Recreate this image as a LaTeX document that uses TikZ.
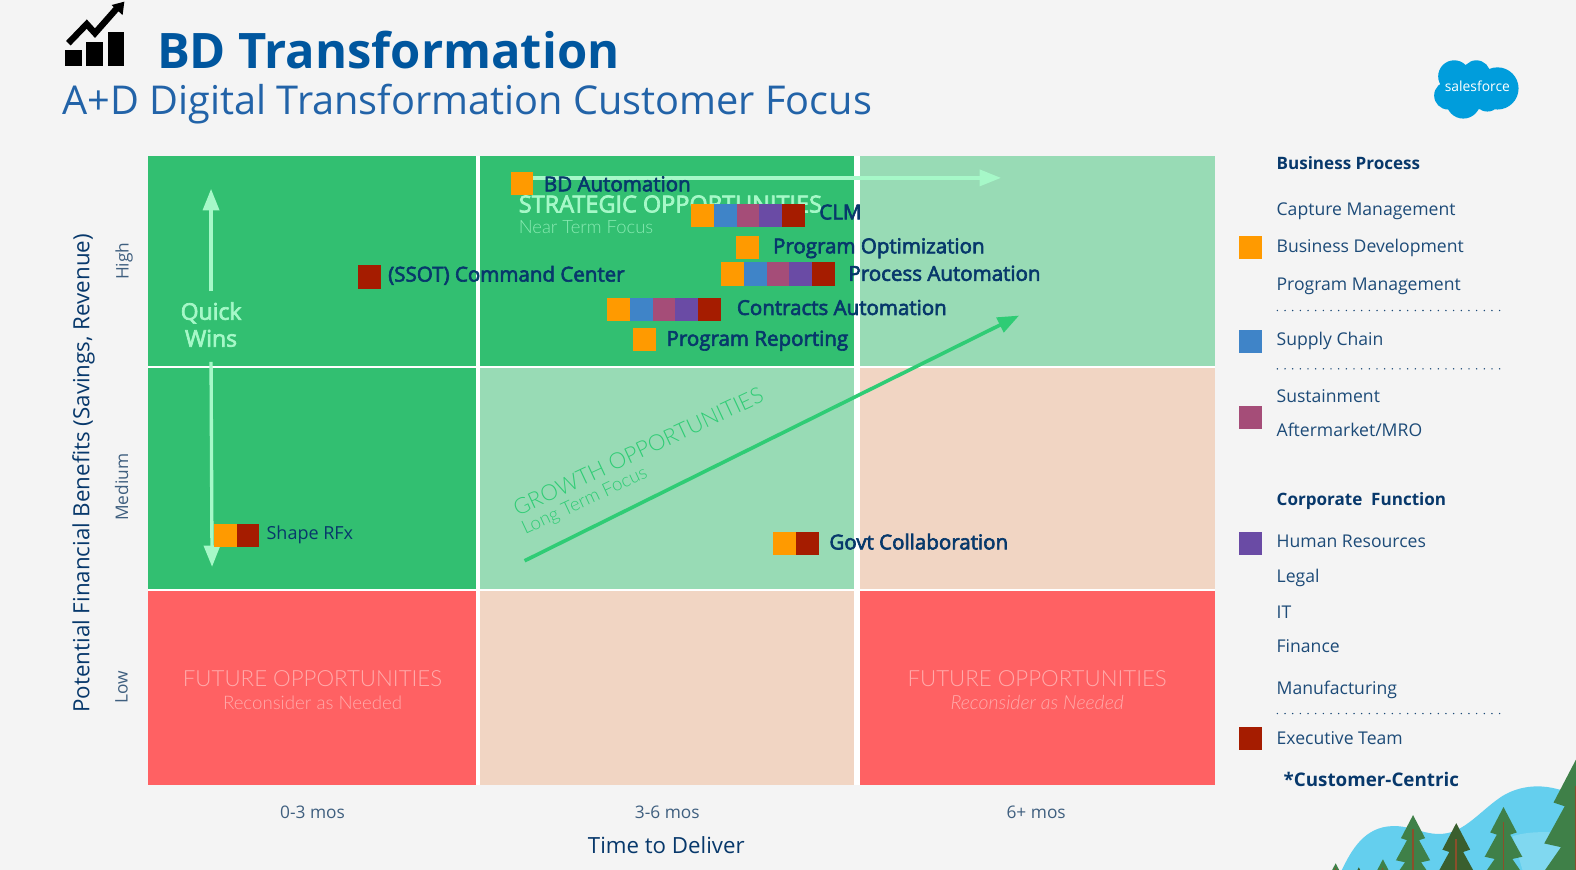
\documentclass[tikz,border=0pt]{standalone}
\usepackage{fontspec}
\setmainfont{Open Sans}
\newfontfamily\lightf{Lato Light}
\newfontfamily\semif[FakeBold=3]{Open Sans}
\usetikzlibrary{arrows.meta}
\definecolor{bgc}{HTML}{F4F4F4}
\definecolor{dgreen}{HTML}{32BF71}
\definecolor{lgreen}{HTML}{98DBB5}
\definecolor{peach}{HTML}{F1D5C3}
\definecolor{redc}{HTML}{FF6163}
\definecolor{swO}{HTML}{FF9A00}
\definecolor{swB}{HTML}{3F84C8}
\definecolor{swM}{HTML}{A54D78}
\definecolor{swP}{HTML}{6A4BA5}
\definecolor{swR}{HTML}{A51C00}
\definecolor{navy}{HTML}{07386B}
\definecolor{slate}{HTML}{3F5F7F}
\definecolor{legendc}{HTML}{1D4B78}
\definecolor{titlec}{HTML}{00569E}
\definecolor{subc}{HTML}{2263A8}
\definecolor{mint}{HTML}{A6F8C8}
\definecolor{growc}{HTML}{2FCC75}
\definecolor{futc}{HTML}{FFABAB}
\definecolor{hill}{HTML}{64CFEE}
\definecolor{hilll}{HTML}{80D8F0}
\definecolor{treeA}{HTML}{3F8048}
\definecolor{treeB}{HTML}{3A5F2E}
\definecolor{trunk}{HTML}{8A4F2B}
\definecolor{cloudc}{HTML}{009DDC}
\newcommand{\fsz}[1]{\fontsize{#1}{#1}\selectfont}
\newcommand{\treeat}[4]{%
 \begin{scope}[shift={(#1,#2)},x=#3*0.754pt,y=-#3*0.754pt]
  \fill[#4] (0,0)--(-12,23)--(-6,25)--(-17,45)--(-8,47)--(-24,70)--(-10,72)--(-26,95)--(26,95)--(10,72)--(24,70)--(8,47)--(17,45)--(6,25)--(12,23)--cycle;
  \draw[trunk,line width=#3*1pt] (0,14)--(0,95);
 \end{scope}}
\tikzset{
 swatch/.style={fill=#1,draw=none,inner sep=0,outer sep=0,minimum width=22.7*0.754pt,minimum height=23.2*0.754pt,anchor=north west},
 lab/.style={inner sep=0,anchor=west,text=navy,font=\semif\fsz{15.4}},
 leg/.style={inner sep=0,anchor=west,text=legendc,font=\fsz{13.2}},
 leghead/.style={inner sep=0,anchor=west,text=navy,font=\fsz{12.8}\bfseries},
 ax/.style={inner sep=0,text=slate,font=\fsz{13}},
 fut/.style={inner sep=0,text=futc,font=\lightf\fsz{16.7}},
 futs/.style={inner sep=0,text=futc,font=\lightf\fsz{14}},
 mintarrow/.style={draw=mint,line width=2.5pt,-{Triangle[width=12pt,length=16pt]}},
 dots/.style={draw=legendc,line width=1.2pt,line cap=round,dash pattern=on 0pt off 5.75pt},
}
\begin{document}
\begin{tikzpicture}[x=0.754pt,y=-0.754pt]
\useasboundingbox (0,0) rectangle (1568.16,865.67);
\fill[bgc] (0,0) rectangle (1568.16,865.67);
% --- matrix
\fill[dgreen] (147,155) rectangle (474,364);
\fill[dgreen] (477.5,155) rectangle (850,364);
\fill[lgreen] (855.5,155) rectangle (1209,364);
\fill[dgreen] (147,366) rectangle (475,586);
\fill[lgreen] (477.5,366) rectangle (850,586);
\fill[peach] (855.5,366) rectangle (1209,586);
\fill[redc] (147,588) rectangle (474,781);
\fill[peach] (477.5,588) rectangle (850,781);
\fill[redc] (855.5,588) rectangle (1209,781);
\fill[white] (147,364) rectangle (475,366);
\fill[white] (147,586) rectangle (475,588);
\fill[white] (474,155) rectangle (477.5,781);
\fill[white] (850,155) rectangle (855.5,781);
\fill[white] (477,364) rectangle (850,366);
\fill[white] (477,586) rectangle (1209,588);
\fill[white] (855,364) rectangle (1209,366);
% --- title
\fill[black] (64.7,49.8) rectangle (81.3,65.7);
\fill[black] (85.6,42) rectangle (102.2,65.7);
\fill[black] (107.2,31.8) rectangle (123.4,65.7);
\draw[black,line width=4.8pt,line join=miter] (68,43)--(86.3,24)--(94.5,33)--(117,7.5);
\fill[black] (111,5)--(123.7,1.7)--(122,15)--cycle;
\node[inner sep=0,anchor=west,text=titlec,font=\fsz{36.7}\bfseries] (title) at (156,50) {BD Transformation};
\node[inner sep=0,anchor=west,text=subc,font=\fsz{29.8}] (subtitle) at (62,103.5) {A+D Digital Transformation Customer Focus};
% --- logo
\fill[cloudc] (1441,95) circle (14) (1447,76) circle (16) (1469,74) circle (14) (1490,88) circle (21) (1456,101) circle (17) (1480,97) circle (14) (1465,90) circle (20);
\node[inner sep=0,text=white,font=\fsz{10.4}] (logotext) at (1470,86) {salesforce};
% --- axis text
\node[inner sep=0,rotate=90,text=navy,font=\fsz{16.75}] (yaxis) at (83,471) {Potential Financial Benefits (Savings, Revenue)};
\node[ax,rotate=90] (yhigh) at (123.5,260) {High};
\node[ax,rotate=90] (ymed) at (121,485) {Medium};
\node[ax,rotate=90] (ylow) at (121,684) {Low};
\node[ax] (x1) at (311,808) {0-3 mos};
\node[ax] (x2) at (664,808) {3-6 mos};
\node[ax] (x3) at (1031,808) {6+ mos};
\node[inner sep=0,text=navy,font=\fsz{16.7}] (xaxis) at (663,841) {Time to Deliver};
% --- region captions
\node[inner sep=0,anchor=west,text=mint,font=\semif\fsz{17.6}] (strat) at (516,203) {STRATEGIC OPPORTUNITIES};
\node[inner sep=0,anchor=west,text=mint!75!dgreen,font=\lightf\fsz{13.8}] (stratb) at (516,226) {Near Term Focus};
\node[inner sep=0,rotate=25,text=growc,font=\lightf\fsz{16.6}] (grow) at (635,449) {GROWTH OPPORTUNITIES};
\node[inner sep=0,rotate=25,text=growc,font=\lightf\fsz{14}] (growb) at (582,499) {Long Term Focus};
\node[fut] (fut1) at (311,675) {FUTURE OPPORTUNITIES};
\node[futs] (fut1b) at (311,699) {Reconsider as Needed};
\node[fut] (fut2) at (1032,675) {FUTURE OPPORTUNITIES};
\node[futs,font=\lightf\itshape\fsz{14.6}] (fut2b) at (1032,699) {Reconsider as Needed};
\node[inner sep=0,align=center,text=mint,font=\semif\fsz{17.2}] (quick) at (210,323) {Quick\\[3pt]Wins};
% --- arrows
\coordinate (qa) at (210,290); \coordinate (qb) at (210,188);
\coordinate (qc) at (210,360); \coordinate (qd) at (211,564);
\coordinate (ba) at (520,177); \coordinate (bb) at (996,177);
\coordinate (ga) at (522,558); \coordinate (gb) at (1014,314);
\draw[mintarrow] (qa)--(qb);
\draw[mintarrow] (qc)--(qd);
\draw[mintarrow] (ba)--(bb);
\draw[draw=growc,line width=2.7pt,-{Triangle[width=12pt,length=16pt]}] (ga)--(gb);
% --- initiative rows
\node[swatch=swO] (bd1) at (508,171) {};
\node[lab] (bdt) at (541,183) {BD Automation};
\node[swatch=swO] (cl1) at (687.6,202.5) {};
\node[swatch=swB] (cl2) at (710.3,202.5) {};
\node[swatch=swM] (cl3) at (733,202.5) {};
\node[swatch=swP] (cl4) at (755.7,202.5) {};
\node[swatch=swR] (cl5) at (778.4,202.5) {};
\node[lab] (clt) at (815,211) {CLM};
\node[swatch=swO] (po1) at (732.6,235) {};
\node[lab] (pot) at (769,247) {Program Optimization};
\node[swatch=swO] (pa1) at (717.4,261) {};
\node[swatch=swB] (pa2) at (740.1,261) {};
\node[swatch=swM] (pa3) at (762.8,261) {};
\node[swatch=swP] (pa4) at (785.5,261) {};
\node[swatch=swR] (pa5) at (808.2,261) {};
\node[lab] (pat) at (844,272) {Process Automation};
\node[swatch=swO] (ca1) at (604,296.5) {};
\node[swatch=swB] (ca2) at (626.7,296.5) {};
\node[swatch=swM] (ca3) at (649.4,296.5) {};
\node[swatch=swP] (ca4) at (672.1,296.5) {};
\node[swatch=swR] (ca5) at (694.8,296.5) {};
\node[lab] (cat) at (733,306) {Contracts Automation};
\node[swatch=swO] (pr1) at (630,326) {};
\node[lab] (prt) at (663,339) {Program Reporting};
\node[swatch=swR] (ss1) at (356,264) {};
\node[lab] (sst) at (386,274) {(SSOT) Command Center};
\node[swatch=swO] (sh1) at (213,521.5) {};
\node[swatch=swR] (sh2) at (235.5,521.5) {};
\node[lab,font=\fsz{13.5}] (sht) at (265,532) {Shape RFx};
\node[swatch=swO] (go1) at (769,529.5) {};
\node[swatch=swR] (go2) at (792,529.5) {};
\node[lab] (got) at (825,539) {Govt Collaboration};
% --- legend
\node[leghead] (lh1) at (1270,162) {Business Process};
\node[leg] (l1) at (1270,210) {Capture Management};
\node[swatch=swO] (s1) at (1233,235) {};
\node[leg] (l2) at (1270,247) {Business Development};
\node[leg] (l3) at (1270,285) {Program Management};
\coordinate (d1a) at (1271,309); \coordinate (d1b) at (1493,309);
\draw[dots] (d1a)--(d1b);
\node[swatch=swB] (s2) at (1233,328) {};
\node[leg] (l4) at (1270,339) {Supply Chain};
\coordinate (d2a) at (1271,367); \coordinate (d2b) at (1493,367);
\draw[dots] (d2a)--(d2b);
\node[leg] (l5) at (1270,394) {Sustainment};
\node[swatch=swM] (s3) at (1233,404) {};
\node[leg] (l6) at (1270,428) {Aftermarket/MRO};
\node[leghead] (lh2) at (1270,499) {Corporate\ \ Function};
\node[swatch=swP] (s4) at (1233,529) {};
\node[leg] (l7) at (1270,539) {Human Resources};
\node[leg] (l8) at (1270,575) {Legal};
\node[leg] (l9) at (1270,609) {IT};
\node[leg] (l10) at (1270,643) {Finance};
\node[leg] (l11) at (1270,686) {Manufacturing};
\coordinate (d3a) at (1271,710); \coordinate (d3b) at (1493,710);
\draw[dots] (d3a)--(d3b);
\node[swatch=swR] (s5) at (1233,723.5) {};
\node[leg] (l12) at (1270,734) {Executive Team};
\node[inner sep=0,anchor=west,text=navy,font=\fsz{14.1}\bfseries] (cc) at (1277,775.5) {*Customer-Centric};
% --- scenery
\begin{scope}
\clip (0,0) rectangle (1568.16,865.67);
\fill[hill] (1335,866) .. controls (1345,845) and (1358,823) .. (1385,822)
  .. controls (1405,821) and (1420,833) .. (1440,829)
  .. controls (1460,825) and (1475,805) .. (1495,792)
  .. controls (1510,783) and (1535,776) .. (1568,792) -- (1568.16,866) -- cycle;
\fill[hilll] (1505,832) .. controls (1525,826) and (1545,828) .. (1568,830) -- (1568,866) -- (1515,866) -- cycle;
\treeat{1329}{859}{0.35}{treeA}
\treeat{1352}{863}{0.3}{treeB}
\treeat{1376}{855}{0.6}{treeA}
\treeat{1406}{811}{1.0}{treeA}
\treeat{1449}{819}{1.15}{treeB}
\treeat{1496}{803}{1.1}{treeA}
\treeat{1568}{756}{1.85}{treeA}
\end{scope}
\end{tikzpicture}
\end{document}
